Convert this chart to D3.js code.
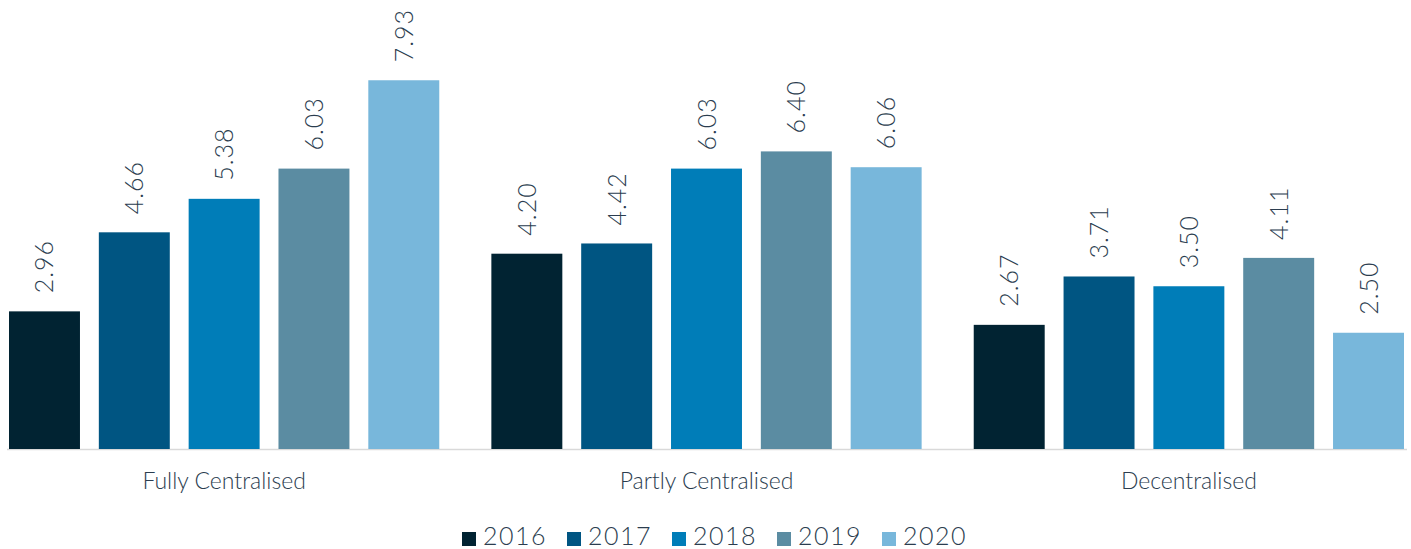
<!DOCTYPE html>
<meta charset="utf-8">
<script src="https://cdn.jsdelivr.net/npm/d3@7"></script>
<style>
body { margin: 0; background: #fff; }
text {
  fill: #2b3d4f;
  font-family: Lato, "Open Sans", sans-serif;
  font-weight: 300;
}
</style>
<body>
<script>

var categories = ["Fully Centralised", "Partly Centralised", "Decentralised"];
var years = ["2016", "2017", "2018", "2019", "2020"];
var colors = ["#012332", "#005582", "#007db8", "#5b8ca2", "#78b7db"];

var fullyCentralised = [2.96, 4.66, 5.38, 6.03, 7.93];
var partlyCentralised = [4.20, 4.42, 6.03, 6.40, 6.06];
var decentralised = [2.67, 3.71, 3.50, 4.11, 2.50];

var values = [fullyCentralised, partlyCentralised, decentralised];

var width = 1411,
    height = 549;

var plotLeft = 9, plotRight = 1404,
    plotTop = 77, plotBottom = 449;

var svg = d3.select("body").append("svg")
    .attr("width", width)
    .attr("height", height);

var x0 = d3.scaleBand()
    .domain(categories)
    .range([plotLeft, plotRight])
    .paddingInner(0.108)
    .paddingOuter(0);

var x1 = d3.scaleBand()
    .domain(years)
    .range([0, x0.bandwidth()])
    .paddingInner(0.21)
    .paddingOuter(0);

var y = d3.scaleLinear()
    .domain([0, 8])
    .range([plotBottom, plotTop]);

var color = d3.scaleOrdinal().domain(years).range(colors);

// flatten into rows
var rows = [];
categories.forEach(function(c, i) {
  years.forEach(function(yr, j) {
    rows.push({cat: c, year: yr, value: values[i][j]});
  });
});

// baseline
svg.append("line")
    .attr("x1", plotLeft - 2)
    .attr("x2", plotRight + 3)
    .attr("y1", plotBottom + 0.5)
    .attr("y2", plotBottom + 0.5)
    .style("stroke", "#d9d9d9")
    .style("stroke-width", 1.5);

// bars
svg.append("g")
  .selectAll("rect")
  .data(rows)
  .enter()
  .append("rect")
    .attr("x", function(d) { return x0(d.cat) + x1(d.year); })
    .attr("y", function(d) { return y(d.value); })
    .attr("width", x1.bandwidth())
    .attr("height", function(d) { return y(0) - y(d.value); })
    .style("fill", function(d) { return color(d.year); });

// value labels, rotated
svg.append("g")
  .selectAll("text")
  .data(rows)
  .enter()
  .append("text")
    .attr("transform", function(d) {
      var cx = x0(d.cat) + x1(d.year) + x1.bandwidth() / 2;
      return "translate(" + (cx + 9) + "," + (y(d.value) - 18) + ") rotate(-90)";
    })
    .style("font-size", "25px")
    .style("letter-spacing", "1px")
    .text(function(d) { return d.value.toFixed(2); });

// category labels
svg.append("g")
  .selectAll("text")
  .data(categories)
  .enter()
  .append("text")
    .attr("x", function(d) { return x0(d) + x0.bandwidth() / 2; })
    .attr("y", 489)
    .attr("text-anchor", "middle")
    .style("font-size", "23px")
    .text(function(d) { return d; });

// legend
var legend = svg.append("g")
    .attr("transform", "translate(462,0)");

var item = legend.selectAll("g")
  .data(years)
  .enter()
  .append("g")
    .attr("transform", function(d, i) { return "translate(" + (i * 105) + ",0)"; });

item.append("rect")
    .attr("x", 0)
    .attr("y", 532)
    .attr("width", 14)
    .attr("height", 14)
    .style("fill", function(d) { return color(d); });

item.append("text")
    .attr("x", 21)
    .attr("y", 545)
    .style("font-size", "25px")
    .style("letter-spacing", "1.5px")
    .text(function(d) { return d; });

</script>
</body>
